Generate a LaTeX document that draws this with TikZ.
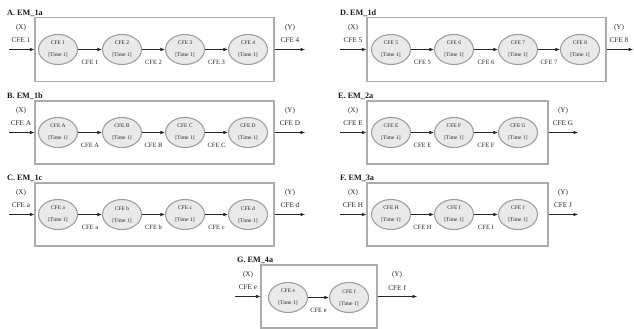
\documentclass[tikz,border=0pt]{standalone}
\usepackage{fontspec}
\setmainfont{Liberation Serif}
\usetikzlibrary{shapes.geometric,arrows.meta}
\begin{document}
\begin{tikzpicture}[x=1pt,y=-1pt,
  cfe/.style={ellipse, draw=gray!75, fill=gray!17, line width=1.1pt,
    minimum width=39pt, minimum height=30pt, inner sep=0pt, align=center,
    text=black!85, font=\fontsize{5.5}{12}\selectfont},
  emframe/.style={rectangle, draw=gray!65, line width=1.1pt, inner sep=0pt},
  flow/.style={-{Latex[length=4.5pt,width=3.6pt]}, line width=0.6pt, draw=black!85},
  emtitle/.style={anchor=base west, inner sep=0pt, text=black!90,
    font=\fontsize{8.2}{9}\bfseries},
  sidelab/.style={inner sep=0pt, text=black!85, font=\fontsize{7.2}{8}\selectfont},
  arrlab/.style={inner sep=0pt, text=black!85, yshift=-13pt,
    font=\fontsize{6.5}{7}\selectfont}
]
\useasboundingbox (0,0) rectangle (634,329);

% ---------- A ----------
\node[emtitle] (tA) at (7,15.5) {A. EM\_1a};
\node[emframe, minimum width=239pt, minimum height=64pt] (bA) at (154.5,49.5) {};
\foreach \n/\x in {1/58,2/122,3/185,4/248}
  \node[cfe] (A\n) at (\x,49.5) {CFE \n\\\relax[Time 1]};
\foreach \p/\q in {1/2,2/3,3/4}
  \draw[flow] (A\p) -- node[arrlab] (lA\p) {CFE \p} (A\q);
\coordinate (inA) at (9,49.5);
\coordinate (outA) at (305,49.5);
\draw[flow] (inA) -- (bA.west);
\draw[flow] (bA.east) -- (outA);
\node[sidelab] (xA) at (21,27.5) {(X)};
\node[sidelab] (xcA) at (21,40.5) {CFE 1};
\node[sidelab] (yA) at (290,27.5) {(Y)};
\node[sidelab] (ycA) at (290,40.5) {CFE 4};

% ---------- B ----------
\node[emtitle] (tB) at (7,98.5) {B. EM\_1b};
\node[emframe, minimum width=239pt, minimum height=63pt] (bB) at (154.5,132.5) {};
\foreach \n/\x in {A/58,B/122,C/185,D/248}
  \node[cfe] (B\n) at (\x,132.5) {CFE \n\\\relax[Time 1]};
\foreach \p/\q in {A/B,B/C,C/D}
  \draw[flow] (B\p) -- node[arrlab] (lB\p) {CFE \p} (B\q);
\coordinate (inB) at (9,132.5);
\coordinate (outB) at (305,132.5);
\draw[flow] (inB) -- (bB.west);
\draw[flow] (bB.east) -- (outB);
\node[sidelab] (xB) at (21,110.5) {(X)};
\node[sidelab] (xcB) at (21,123.5) {CFE A};
\node[sidelab] (yB) at (290,110.5) {(Y)};
\node[sidelab] (ycB) at (290,123.5) {CFE D};

% ---------- C ----------
\node[emtitle] (tC) at (7,180.5) {C. EM\_1c};
\node[emframe, minimum width=239pt, minimum height=63pt] (bC) at (154.5,214.5) {};
\foreach \n/\x in {a/58,b/122,c/185,d/248}
  \node[cfe] (C\n) at (\x,214.5) {CFE \n\\\relax[Time 1]};
\foreach \p/\q in {a/b,b/c,c/d}
  \draw[flow] (C\p) -- node[arrlab] (lC\p) {CFE \p} (C\q);
\coordinate (inC) at (9,214.5);
\coordinate (outC) at (305,214.5);
\draw[flow] (inC) -- (bC.west);
\draw[flow] (bC.east) -- (outC);
\node[sidelab] (xC) at (21,192.5) {(X)};
\node[sidelab] (xcC) at (21,205.5) {CFE a};
\node[sidelab] (yC) at (290,192.5) {(Y)};
\node[sidelab] (ycC) at (290,205.5) {CFE d};

% ---------- D ----------
\node[emtitle] (tD) at (340,15.5) {D. EM\_1d};
\node[emframe, minimum width=239pt, minimum height=64pt] (bD) at (486.5,49.5) {};
\foreach \n/\x in {5/391,6/454,7/518,8/580}
  \node[cfe] (D\n) at (\x,49.5) {CFE \n\\\relax[Time 1]};
\foreach \p/\q in {5/6,6/7,7/8}
  \draw[flow] (D\p) -- node[arrlab] (lD\p) {CFE \p} (D\q);
\coordinate (inD) at (340,49.5);
\coordinate (outD) at (633,49.5);
\draw[flow] (inD) -- (bD.west);
\draw[flow] (bD.east) -- (outD);
\node[sidelab] (xD) at (353,27.5) {(X)};
\node[sidelab] (xcD) at (353,40.5) {CFE 5};
\node[sidelab] (yD) at (619,27.5) {(Y)};
\node[sidelab] (ycD) at (619,40.5) {CFE 8};

% ---------- E ----------
\node[emtitle] (tE) at (338,98.5) {E. EM\_2a};
\node[emframe, minimum width=181pt, minimum height=63pt] (bE) at (457.5,132.5) {};
\foreach \n/\x in {E/391,F/454,G/518}
  \node[cfe] (E\n) at (\x,132.5) {CFE \n\\\relax[Time 1]};
\foreach \p/\q in {E/F,F/G}
  \draw[flow] (E\p) -- node[arrlab] (lE\p) {CFE \p} (E\q);
\coordinate (inE) at (340,132.5);
\coordinate (outE) at (578,132.5);
\draw[flow] (inE) -- (bE.west);
\draw[flow] (bE.east) -- (outE);
\node[sidelab] (xE) at (353,110.5) {(X)};
\node[sidelab] (xcE) at (353,123.5) {CFE E};
\node[sidelab] (yE) at (563,110.5) {(Y)};
\node[sidelab] (ycE) at (563,123.5) {CFE G};

% ---------- F ----------
\node[emtitle] (tF) at (340,180.5) {F. EM\_3a};
\node[emframe, minimum width=181pt, minimum height=63pt] (bF) at (457.5,214.5) {};
\foreach \n/\x in {H/391,I/454,J/518}
  \node[cfe] (F\n) at (\x,214.5) {CFE \n\\\relax[Time 1]};
\foreach \p/\q in {H/I,I/J}
  \draw[flow] (F\p) -- node[arrlab] (lF\p) {CFE \p} (F\q);
\coordinate (inF) at (340,214.5);
\coordinate (outF) at (578,214.5);
\draw[flow] (inF) -- (bF.west);
\draw[flow] (bF.east) -- (outF);
\node[sidelab] (xF) at (353,192.5) {(X)};
\node[sidelab] (xcF) at (353,205.5) {CFE H};
\node[sidelab] (yF) at (563,192.5) {(Y)};
\node[sidelab] (ycF) at (563,205.5) {CFE J};

% ---------- G ----------
\node[emtitle] (tG) at (237,262) {G. EM\_4a};
\node[emframe, minimum width=116pt, minimum height=63pt] (bG) at (319,296.5) {};
\foreach \n/\x in {e/288,f/349}
  \node[cfe] (G\n) at (\x,297.5) {CFE \n\\\relax[Time 1]};
\draw[flow] (Ge) -- node[arrlab] (lGe) {CFE e} (Gf);
\coordinate (inG) at (235,296.5);
\coordinate (outG) at (417,296.5);
\draw[flow] (inG) -- (bG.west);
\draw[flow] (bG.east) -- (outG);
\node[sidelab] (xG) at (248,274.5) {(X)};
\node[sidelab] (xcG) at (248,287.5) {CFE e};
\node[sidelab] (yG) at (397,274.5) {(Y)};
\node[sidelab] (ycG) at (397,287.5) {CFE f};
\end{tikzpicture}
\end{document}
